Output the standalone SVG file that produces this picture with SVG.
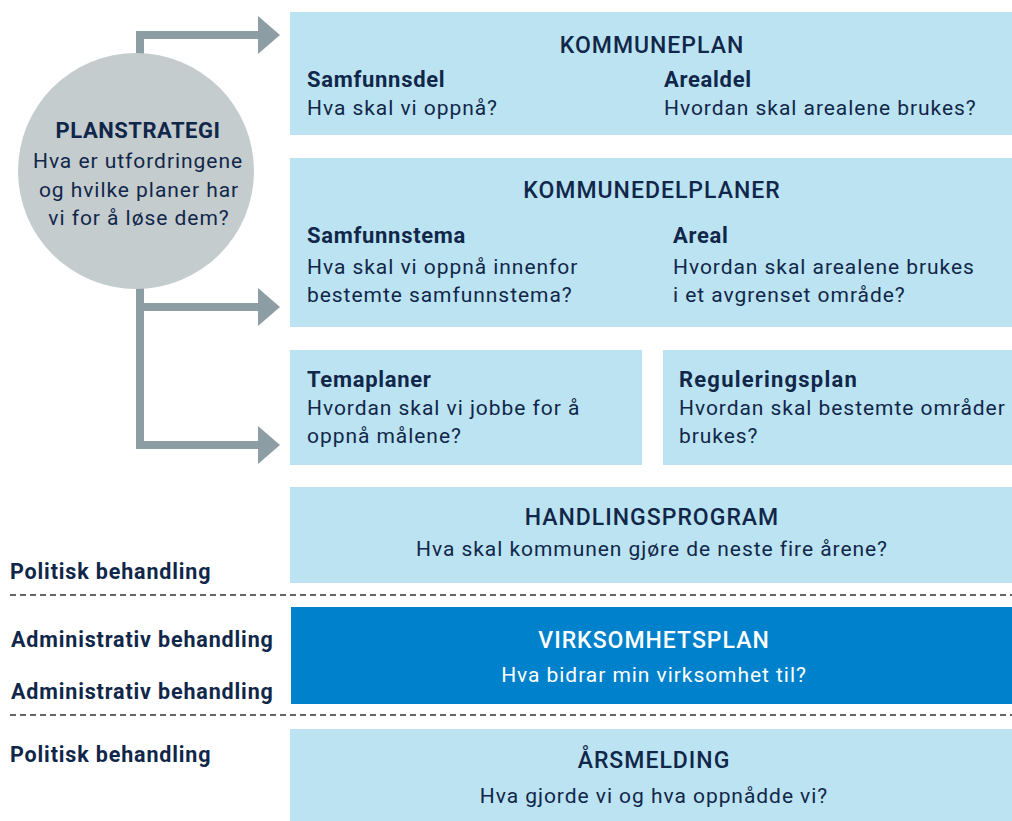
<svg xmlns="http://www.w3.org/2000/svg" width="1012" height="821" viewBox="0 0 1012 821">
<style>
text{font-family:Roboto,"Liberation Sans",sans-serif;fill:#10274a}
.box{fill:#bce3f1}
.dark{fill:#0081cb}
.t{font-size:23px;font-weight:500;letter-spacing:1px;text-anchor:middle}
.h{font-size:22px;font-weight:700;letter-spacing:0.7px}
.b{font-size:21px;font-weight:400;letter-spacing:0.95px}
.c{text-anchor:middle}
.w{fill:#ffffff}
.lbl{font-size:21.5px;font-weight:700;letter-spacing:0.85px}
.conn{fill:none;stroke:#8d9da4;stroke-width:8;stroke-linejoin:miter}
.dash{stroke:#333;stroke-width:1.5;stroke-dasharray:6 4}
</style>
<defs>
<marker id="arr" viewBox="0 0 22 38" refX="0" refY="19" markerWidth="22" markerHeight="38" markerUnits="userSpaceOnUse" orient="auto">
<path d="M0,0 L22,19 L0,38 Z" fill="#8d9da4"/>
</marker>
</defs>
<rect width="1012" height="821" fill="#ffffff"/>
<g id="connectors">
<path class="conn" d="M140,70 V35 H258" marker-end="url(#arr)"/>
<path class="conn" d="M140,270 V445 H258" marker-end="url(#arr)"/>
<path class="conn" d="M140,307 H258" marker-end="url(#arr)"/>
</g>
<g id="planstrategi">
<circle cx="136" cy="171" r="118" fill="#c5ccce"/>
<text class="h c" x="138" y="138" style="letter-spacing:0.5px">PLANSTRATEGI</text>
<text class="b c" x="138" y="168">Hva er utfordringene</text>
<text class="b c" x="139" y="197">og hvilke planer har</text>
<text class="b c" x="139" y="225">vi for å løse dem?</text>
</g>
<g id="kommuneplan">
<rect class="box" x="290" y="12" width="722" height="123"/>
<text class="t" x="652" y="53">KOMMUNEPLAN</text>
<text class="h" x="307" y="87">Samfunnsdel</text>
<text class="b" x="307" y="115">Hva skal vi oppnå?</text>
<text class="h" x="664" y="87">Arealdel</text>
<text class="b" x="664" y="115">Hvordan skal arealene brukes?</text>
</g>
<g id="kommunedelplaner">
<rect class="box" x="290" y="158" width="722" height="169"/>
<text class="t" x="652" y="198">KOMMUNEDELPLANER</text>
<text class="h" x="307" y="243">Samfunnstema</text>
<text class="b" x="307" y="274">Hva skal vi oppnå innenfor</text>
<text class="b" x="307" y="302">bestemte samfunnstema?</text>
<text class="h" x="673" y="243">Areal</text>
<text class="b" x="673" y="274">Hvordan skal arealene brukes</text>
<text class="b" x="673" y="302">i et avgrenset område?</text>
</g>
<g id="temaplaner">
<rect class="box" x="290" y="350" width="352" height="115"/>
<text class="h" x="307" y="387">Temaplaner</text>
<text class="b" x="307" y="415">Hvordan skal vi jobbe for å</text>
<text class="b" x="307" y="443">oppnå målene?</text>
</g>
<g id="reguleringsplan">
<rect class="box" x="663" y="350" width="349" height="115"/>
<text class="h" x="679" y="387" style="letter-spacing:1.2px">Reguleringsplan</text>
<text class="b" x="679" y="415">Hvordan skal bestemte områder</text>
<text class="b" x="679" y="443">brukes?</text>
</g>
<g id="handlingsprogram">
<rect class="box" x="290" y="487" width="722" height="96"/>
<text class="t" x="652" y="525">HANDLINGSPROGRAM</text>
<text class="b c" x="652" y="556">Hva skal kommunen gjøre de neste fire årene?</text>
</g>
<g id="virksomhetsplan">
<rect class="dark" x="291" y="607" width="721" height="97"/>
<text class="t w" x="654" y="648">VIRKSOMHETSPLAN</text>
<text class="b c w" x="654" y="682">Hva bidrar min virksomhet til?</text>
</g>
<g id="arsmelding">
<rect class="box" x="290" y="729" width="722" height="92"/>
<text class="t" x="654" y="768">ÅRSMELDING</text>
<text class="b c" x="654" y="803">Hva gjorde vi og hva oppnådde vi?</text>
</g>
<g id="levels">
<line class="dash" x1="10" y1="595" x2="1012" y2="595"/>
<line class="dash" x1="10" y1="715" x2="1012" y2="715"/>
<text class="lbl" x="10" y="579">Politisk behandling</text>
<text class="lbl" x="11" y="647">Administrativ behandling</text>
<text class="lbl" x="11" y="699">Administrativ behandling</text>
<text class="lbl" x="10" y="762">Politisk behandling</text>
</g>
</svg>
